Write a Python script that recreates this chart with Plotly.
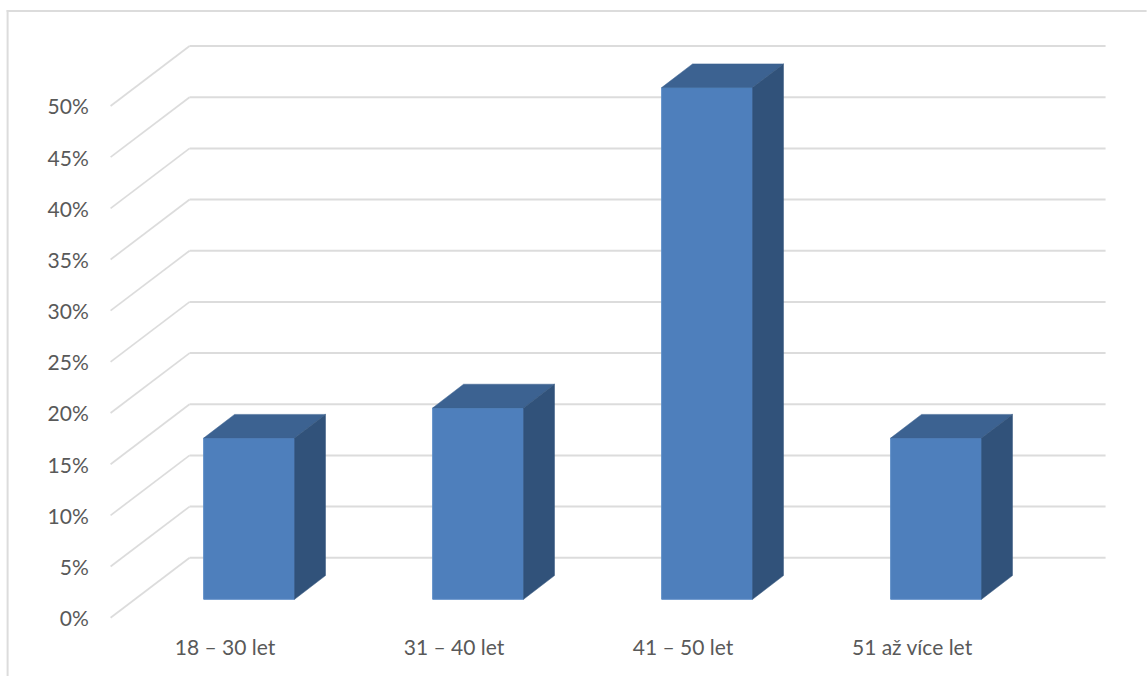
import plotly.graph_objects as go

# Age groups and their share of respondents (%)
categories = ["18 – 30 let", "31 – 40 let", "41 – 50 let", "51 až více let"]
shares = [15.75, 18.7, 50, 15.75]
tick_values = [0, 5, 10, 15, 20, 25, 30, 35, 40, 45, 50]
tick_labels = [f"{v}%" for v in tick_values]

# Oblique projection used for the pseudo-3D look, in axis units
WALL_DX, WALL_DY = 0.345, 5.86
BAR_DX, BAR_DY = 0.135, 2.316
BAR_OFFSET, BAR_WIDTH = 0.105, 0.397
BAR_FLOOR = 1.8

GRID = "#dcdcdc"
FRONT, TOP, SIDE = "#4e7fbc", "#3c6291", "#31527a"
TEXT = "#595959"
FONT = "Lato"

# Plot area in page pixels; slightly larger than the walls so lines are not clipped
WIDTH, HEIGHT = 1147, 676
LEFT, RIGHT, TOP_PX, BOTTOM_PX = 106.4, 1109.4, 40, 624

positions = list(range(len(categories)))
wall_left, wall_right = -0.5, 3.5 + WALL_DX


def paper_x(px):
    return (px - LEFT) / (RIGHT - LEFT)


def paper_y(px):
    return (BOTTOM_PX - px) / (BOTTOM_PX - TOP_PX)


fig = go.Figure()

# Front faces of the bars
fig.add_trace(go.Bar(
    x=[p + BAR_OFFSET for p in positions],
    y=shares,
    base=BAR_FLOOR,
    width=BAR_WIDTH,
    marker=dict(color=FRONT, line=dict(color="#5c8cc6", width=1)),
    hoverinfo="skip",
))

# Top and side faces derived from each bar's value
for p, value in zip(positions, shares):
    left = p + BAR_OFFSET - BAR_WIDTH / 2
    right = left + BAR_WIDTH
    top = BAR_FLOOR + value
    fig.add_trace(go.Scatter(
        x=[left, right, right + BAR_DX, left + BAR_DX, left],
        y=[top, top, top + BAR_DY, top + BAR_DY, top],
        mode="lines", fill="toself", fillcolor=TOP,
        line=dict(color=TOP, width=0.5), hoverinfo="skip",
    ))
    fig.add_trace(go.Scatter(
        x=[right, right + BAR_DX, right + BAR_DX, right, right],
        y=[BAR_FLOOR, BAR_FLOOR + BAR_DY, top + BAR_DY, top, BAR_FLOOR],
        mode="lines", fill="toself", fillcolor=SIDE,
        line=dict(color=SIDE, width=0.5), hoverinfo="skip",
    ))

# Side-wall diagonals and back-wall gridlines, kept underneath the bars
shapes = []
for v in tick_values:
    shapes.append(dict(type="line", layer="below", xref="x", yref="y",
                       x0=wall_left, y0=v, x1=wall_left + WALL_DX, y1=v + WALL_DY,
                       line=dict(color=GRID, width=1.7)))
    shapes.append(dict(type="line", layer="below", xref="x", yref="y",
                       x0=wall_left + WALL_DX, y0=v + WALL_DY, x1=wall_right, y1=v + WALL_DY,
                       line=dict(color=GRID, width=2)))

# Chart frame, open towards the right and bottom edges of the page
shapes.append(dict(type="line", layer="below", xref="paper", yref="paper",
                   x0=paper_x(7), y0=paper_y(11), x1=paper_x(WIDTH), y1=paper_y(11),
                   line=dict(color=GRID, width=2)))
shapes.append(dict(type="line", layer="below", xref="paper", yref="paper",
                   x0=paper_x(8), y0=paper_y(10), x1=paper_x(8), y1=paper_y(HEIGHT),
                   line=dict(color=GRID, width=2)))

fig.update_layout(
    width=WIDTH, height=HEIGHT,
    margin=dict(l=LEFT, r=WIDTH - RIGHT, t=TOP_PX, b=HEIGHT - BOTTOM_PX, autoexpand=False),
    paper_bgcolor="white", plot_bgcolor="white",
    showlegend=False,
    font=dict(family=FONT, size=21, color=TEXT),
    shapes=shapes,
    xaxis=dict(
        range=[-0.52, 3.86], tickvals=positions, ticktext=categories,
        showgrid=False, zeroline=False, showline=False,
        ticks="outside", ticklen=5, tickcolor="rgba(0,0,0,0)",
    ),
    yaxis=dict(
        range=[-0.615, 56.45], tickvals=tick_values, ticktext=tick_labels,
        showgrid=False, zeroline=False, showline=False,
        ticks="outside", ticklen=12, tickcolor="rgba(0,0,0,0)",
        ticklabelshift=1,
    ),
)

fig.write_html("out.html", config=dict(displayModeBar=False))
